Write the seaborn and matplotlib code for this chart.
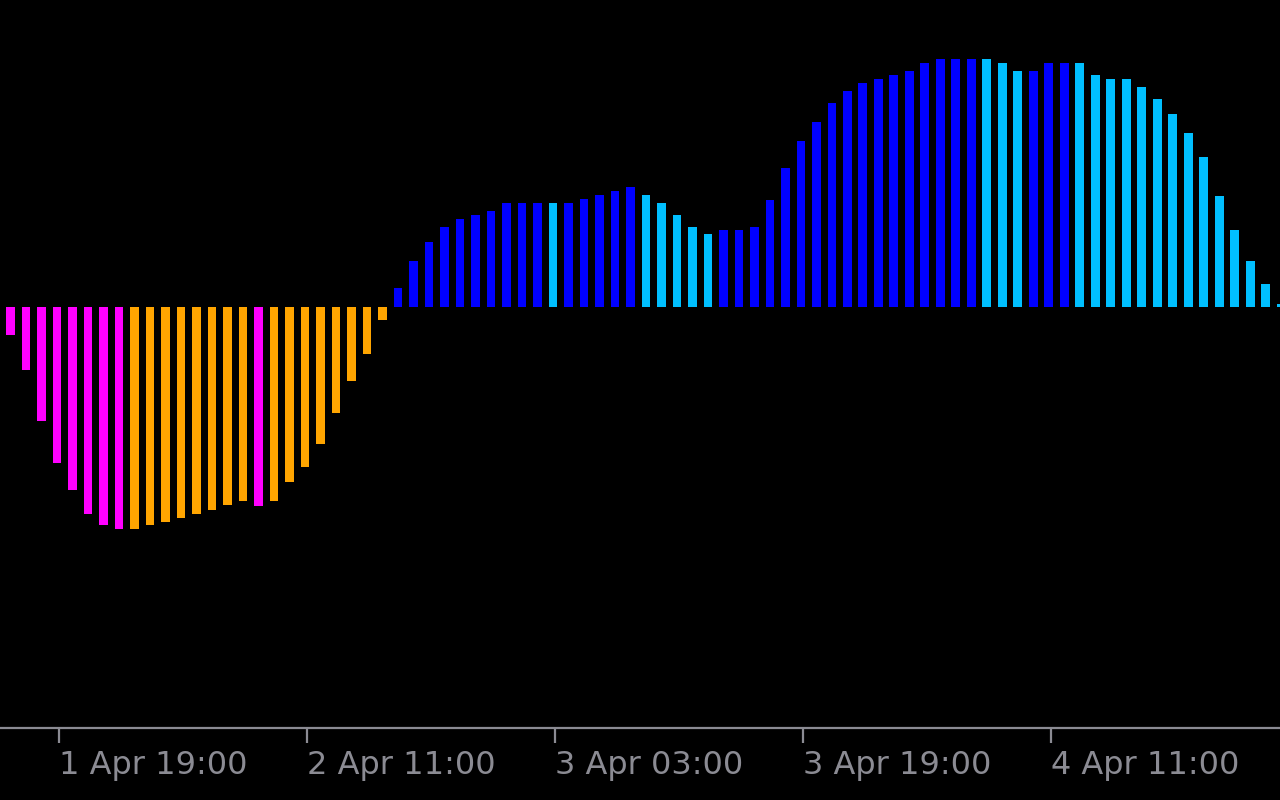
#!/usr/bin/env python3
"""
Colour histogram oscillator (MT5 style) on a black chart.
"""

import pandas as pd
import matplotlib
matplotlib.use("Agg")
import matplotlib.pyplot as plt
import seaborn as sns

# histogram values, one per hourly bar (first bar = 1 Apr 16:00)
values = [
    -27.5, -63, -113.5, -156, -183, -206, -217.5, -221.5, -221.5, -217.5,
    -214.5, -210.5, -206, -202.5, -198, -194, -198.5, -194, -175, -160,
    -137, -105.5, -74, -47, -12.5,
    19, 46.4, 65.7, 80.7, 88.7, 92.7, 96.7, 104, 104, 104,
    104, 104, 108, 112, 116, 120, 112, 104, 92.7, 80.7,
    73.7, 77.7, 77.7, 80.7, 107.7, 139, 166.4, 185.7, 204.7, 216.7,
    224, 228, 232, 236, 244, 248, 248, 248, 248, 244,
    236, 236, 244, 244, 244, 232, 228, 228, 220.7, 208.7,
    193.7, 174.4, 150.4, 111.7, 77.4, 46.4, 23, 3.7,
]

# colour state of each bar
states = (
    ["neg_down"] * 8 + ["neg_up"] * 8 + ["neg_down"] + ["neg_up"] * 8
    + ["pos_up"] * 10 + ["pos_down"] + ["pos_up"] * 5 + ["pos_down"] * 5
    + ["pos_up"] * 17 + ["pos_down"] * 3 + ["pos_up"] * 3
    + ["pos_down"] * 14
)

tick_bars = [3, 19, 35, 51, 67]
tick_labels = ["1 Apr 19:00", "2 Apr 11:00", "3 Apr 03:00", "3 Apr 19:00", "4 Apr 11:00"]

palette = {
    "neg_down": "#FF00FF",
    "neg_up": "#FFA500",
    "pos_up": "#0000FF",
    "pos_down": "#00BFFF",
}

df = pd.DataFrame({"bar": range(len(values)), "value": values, "state": states})

fig = plt.figure(figsize=(12.8, 8), dpi=100, facecolor="black")
ax = fig.add_axes([0, 72 / 800, 1, 728 / 800])
ax.set_facecolor("black")

sns.barplot(data=df, x="bar", y="value", hue="state", palette=palette,
            order=list(range(len(values))), dodge=False, width=0.55,
            saturation=1, legend=False, ax=ax)

ax.set_xlim(-0.665, 81.92)
ax.set_ylim(-420.5, 307.5)

grey = "#8b8b93"
for side in ["top", "left", "right"]:
    ax.spines[side].set_visible(False)
ax.spines["bottom"].set_color(grey)
ax.spines["bottom"].set_linewidth(1.6)

ax.set_yticks([])
ax.set_xticks([b + 0.13 for b in tick_bars])
ax.set_xticklabels(tick_labels, ha="left", color=grey, fontsize=23,
                   family="DejaVu Sans")
ax.tick_params(axis="x", colors=grey, length=11, width=1.6, pad=5)
ax.set_xlabel("")
ax.set_ylabel("")

plt.savefig("out.png", dpi=100, facecolor="black")
plt.close()
